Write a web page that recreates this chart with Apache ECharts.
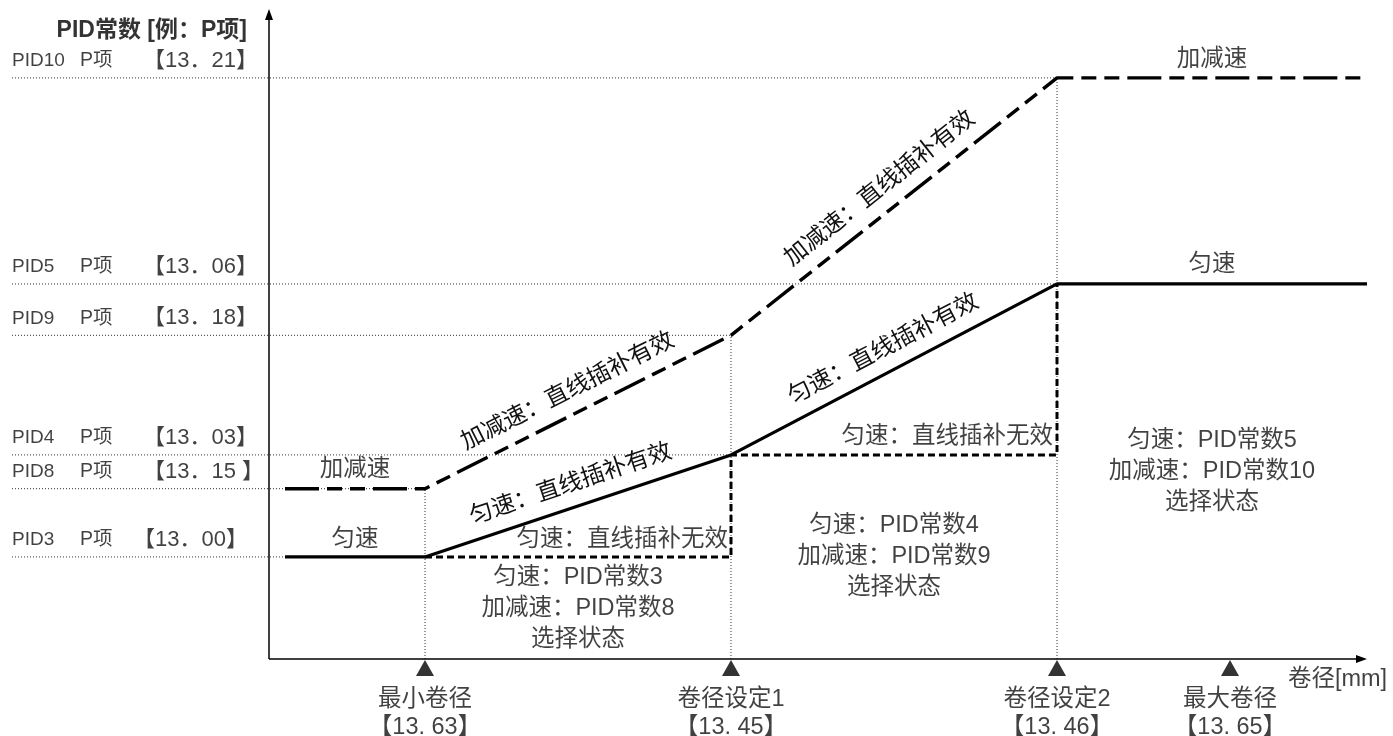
<!DOCTYPE html>
<html>
<head>
<meta charset="utf-8">
<title>PID常数切换</title>
<script src="https://cdn.jsdelivr.net/npm/echarts@6/dist/echarts.min.js"></script>
<style>
html, body { margin: 0; padding: 0; background: #fff; }
#chart { width: 1393px; height: 736px; }
</style>
</head>
<body>
<div id="chart"></div>
<script>
// ---------- data ----------
// roll diameter set points on the horizontal axis
const diameterNames = ['最小卷径', '卷径设定1', '卷径设定2', '最大卷径'];
const diameterParams = ['【13. 63】', '【13. 45】', '【13. 46】', '【13. 65】'];
const diameterValues = [15.6, 46.2, 78.8, 96.1];

// PID constant levels (P term) on the vertical axis
const pidNames = ['PID10', 'PID5', 'PID9', 'PID4', 'PID8', 'PID3'];
const pidParams = ['【13．21】', '【13．06】', '【13．18】', '【13．03】', '【13．15 】', '【13．00】'];
const pidLevels = [89.4, 57.7, 49.8, 31.4, 26.2, 15.7];

// diameter range covered by the two PID curves
const curveExtent = [1.6, 109.8];

const speedModes = ['匀速', '加减速'];
const interpOn = '直线插补有效';
const interpOff = '直线插补无效';
const zoneTexts = [
  ['匀速：PID常数3', '加减速：PID常数8', '选择状态'],
  ['匀速：PID常数4', '加减速：PID常数9', '选择状态'],
  ['匀速：PID常数5', '加减速：PID常数10', '选择状态']
];
const axisTitles = { y: 'PID常数 [例：P项]', x: '卷径[mm]' };

// ---------- derived geometry ----------
const lv = {};
pidNames.forEach((n, i) => { lv[n] = pidLevels[i]; });
const [dMin, dSet1, dSet2] = diameterValues;
const [cStart, cEnd] = curveExtent;

// constant speed: interpolation between set points
const uniformCurve = [[cStart, lv.PID3], [dMin, lv.PID3], [dSet1, lv.PID4], [dSet2, lv.PID5], [cEnd, lv.PID5]];
// accel / decel: interpolation between set points
const accelCurve = [[cStart, lv.PID8], [dMin, lv.PID8], [dSet1, lv.PID9], [dSet2, lv.PID10], [cEnd, lv.PID10]];
// constant speed without interpolation: stepwise switching
const stepCurve = [[dMin, lv.PID3], [dSet1, lv.PID3], [dSet1, lv.PID4], [dSet2, lv.PID4], [dSet2, lv.PID5]];

// where each level's guide stops, and the vertical guides at the set points
const guideStop = { PID10: dSet2, PID5: dSet2, PID9: dSet1, PID4: dSet1, PID8: dMin, PID3: dMin };
const verticalGuides = [[dMin, lv.PID8], [dSet1, lv.PID9], [dSet2, lv.PID10]];

// ---------- layout ----------
const X_MIN = -26, X_MAX = 110, Y_MIN = 0, Y_MAX = 100;
const guideStart = -25.7;
const axisXEnd = 109.25, axisYEnd = 99.15;
const FONT = "'Liberation Sans', Arial, 'Noto Sans CJK SC', sans-serif";
const INK = '#111';
const NOTE_SIZE = 23.5;

const guideStyle = { color: '#333', width: 1, type: [1, 2] };

function lineSeries(data, lineStyle, extra) {
  return Object.assign({
    type: 'line', data: data, symbol: 'none', silent: true,
    lineStyle: lineStyle, z: 2, animation: false, emphasis: { disabled: true }
  }, extra || {});
}

function note(x, y, text, opt) {
  return {
    value: [x, y],
    label: Object.assign({ formatter: text }, opt || {})
  };
}

// guide lines
const series = [];
pidNames.forEach(n => {
  series.push(lineSeries([[guideStart, lv[n]], [guideStop[n], lv[n]]], guideStyle, { z: 1 }));
});
verticalGuides.forEach(([x, y]) => {
  series.push(lineSeries([[x, 0], [x, y]], guideStyle, { z: 1 }));
});

// axes with arrow heads
series.push(lineSeries([[0, 0], [axisXEnd, 0]], { opacity: 0, width: 0 }, {
  z: 5,
  markLine: {
    silent: true, animation: false,
    symbol: ['none', 'triangle'], symbolSize: [0, 11],
    lineStyle: { color: '#000', width: 1.5, type: 'solid' },
    label: { show: false },
    data: [
      [{ coord: [0, 0], symbol: 'none' }, { coord: [axisXEnd, 0], symbol: 'triangle', symbolSize: [8, 11] }],
      [{ coord: [0, 0], symbol: 'none' }, { coord: [0, axisYEnd], symbol: 'triangle', symbolSize: [8, 11] }]
    ]
  }
}));

const slopeLabel = {
  show: true, position: 'insideMiddleTop', distance: 11,
  color: INK, fontSize: NOTE_SIZE, fontFamily: FONT
};
function slopeNotes(points, text) {
  const out = [];
  for (let i = 1; i <= 2; i++) {
    out.push([{ coord: points[i], label: { formatter: text } }, { coord: points[i + 1] }]);
  }
  return {
    silent: true, animation: false, symbol: 'none',
    lineStyle: { color: 'rgba(0,0,0,0)', width: 1, type: 'solid' },
    label: slopeLabel,
    data: out
  };
}

// PID curves
series.push(lineSeries(uniformCurve, { color: '#000', width: 3.2, type: 'solid' }, {
  z: 4, markLine: slopeNotes(uniformCurve, speedModes[0] + '：' + interpOn)
}));
series.push(lineSeries(accelCurve, { color: '#000', width: 3.4, type: [34, 8, 15, 8, 15, 8] }, {
  z: 4, markLine: slopeNotes(accelCurve, speedModes[1] + '：' + interpOn)
}));
series.push(lineSeries(stepCurve, { color: '#000', width: 3, type: [7, 4] }, { z: 3 }));

// set point markers under the diameter axis
series.push({
  type: 'scatter', silent: true, animation: false, z: 6,
  data: diameterValues.map(v => [v, 0]),
  symbol: 'triangle', symbolSize: [18, 16], symbolOffset: [0, 9],
  itemStyle: { color: '#000' },
  emphasis: { disabled: true },
  label: {
    show: true, position: 'bottom', distance: 10,
    formatter: p => diameterNames[p.dataIndex] + '\n' + diameterParams[p.dataIndex],
    color: INK, fontSize: NOTE_SIZE, lineHeight: 28, fontFamily: FONT, align: 'center'
  }
});

// text notes
const notes = [];
const base = { color: INK, fontSize: NOTE_SIZE, fontFamily: FONT };
const leftMid = (cStart + dMin) / 2;
const rightMid = (dSet2 + cEnd) / 2;
notes.push(note(leftMid, lv.PID8, speedModes[1], Object.assign({ offset: [0, -19] }, base)));
notes.push(note(leftMid, lv.PID3, speedModes[0], Object.assign({ offset: [0, -17] }, base)));
notes.push(note(rightMid, lv.PID10, speedModes[1], Object.assign({ offset: [0, -18] }, base)));
notes.push(note(rightMid, lv.PID5, speedModes[0], Object.assign({ offset: [0, -19] }, base)));
notes.push(note(dSet1, lv.PID3, speedModes[0] + '：' + interpOff, Object.assign({ align: 'right', offset: [-3, -17] }, base)));
notes.push(note(dSet2, lv.PID4, speedModes[0] + '：' + interpOff, Object.assign({ align: 'right', offset: [-4, -18] }, base)));

// zone descriptions
const zoneMids = [(dMin + dSet1) / 2, (dSet1 + dSet2) / 2, rightMid];
const zoneLift = [-50, -102, -187];
zoneTexts.forEach((lines, i) => {
  notes.push(note(zoneMids[i], 0, lines.join('\n'), Object.assign({ offset: [0, zoneLift[i]], lineHeight: 31 }, base)));
});

// level labels on the left
const paramCol = { PID3: 53 };
pidNames.forEach((n, i) => {
  notes.push(note(guideStart, lv[n], '{n|' + n + '}{p|P项}{v|' + pidParams[i] + '}', {
    align: 'left', offset: [0, -17], color: INK, fontFamily: FONT, fontSize: 19,
    rich: {
      n: { width: 68, fontSize: 19, fontFamily: FONT, color: INK },
      p: { width: paramCol[n] || 63, fontSize: 19.5, fontFamily: FONT, color: INK },
      v: { fontSize: 22, fontFamily: FONT, color: INK }
    }
  }));
});

// axis titles
notes.push(note(0, Y_MAX, axisTitles.y, {
  align: 'right', offset: [-22, 22], color: '#000', fontFamily: FONT, fontSize: 23, fontWeight: 'bold'
}));
notes.push(note(axisXEnd, 0, axisTitles.x, Object.assign({ offset: [-24, 21] }, base)));

series.push({
  type: 'scatter', silent: true, animation: false, z: 7,
  symbol: 'circle', symbolSize: 1,
  itemStyle: { color: 'rgba(0,0,0,0)' },
  emphasis: { disabled: true },
  label: { show: true, position: 'inside' },
  data: notes
});

const chart = echarts.init(document.getElementById('chart'), null, { renderer: 'canvas' });
chart.setOption({
  animation: false,
  backgroundColor: '#fff',
  textStyle: { fontFamily: FONT },
  grid: { left: 9, right: 24, top: 9, bottom: 77 },
  xAxis: { type: 'value', min: X_MIN, max: X_MAX, show: false },
  yAxis: { type: 'value', min: Y_MIN, max: Y_MAX, show: false },
  series: series
});
</script>
</body>
</html>
